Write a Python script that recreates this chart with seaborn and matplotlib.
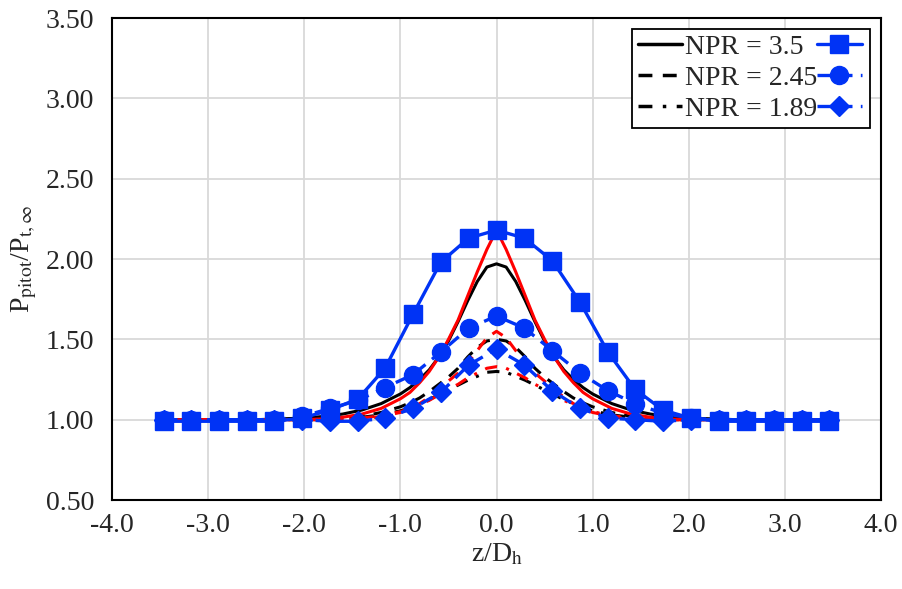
import matplotlib
matplotlib.use("Agg")
import matplotlib.pyplot as plt
from matplotlib.lines import Line2D
import seaborn as sns

# ---------------- data ----------------
xc = [-3.5, -3.0, -2.5, -2.0, -1.8, -1.6, -1.4, -1.2, -1.0, -0.9, -0.8, -0.7, -0.6, -0.5,
      -0.4, -0.3, -0.2, -0.1, 0.0, 0.1, 0.2, 0.3, 0.4, 0.5, 0.6, 0.7, 0.8, 0.9, 1.0,
      1.2, 1.4, 1.6, 1.8, 2.0, 2.5, 3.0, 3.5]

black_35 = [1.00, 1.00, 1.00, 1.01, 1.02, 1.035, 1.06, 1.10, 1.16, 1.20, 1.25, 1.31, 1.39, 1.49,
            1.61, 1.74, 1.86, 1.95, 1.97, 1.95, 1.86, 1.74, 1.61, 1.49, 1.39, 1.31, 1.25, 1.20, 1.16,
            1.10, 1.06, 1.035, 1.02, 1.01, 1.00, 1.00, 1.00]
black_245 = [1.00, 1.00, 1.00, 1.00, 1.00, 1.01, 1.02, 1.045, 1.08, 1.105, 1.135, 1.175, 1.22, 1.265,
             1.32, 1.39, 1.45, 1.49, 1.50, 1.49, 1.45, 1.39, 1.32, 1.265, 1.22, 1.175, 1.135, 1.105, 1.08,
             1.045, 1.02, 1.01, 1.00, 1.00, 1.00, 1.00, 1.00]
black_189 = [1.00, 1.00, 1.00, 1.00, 1.00, 1.005, 1.015, 1.03, 1.055, 1.075, 1.10, 1.125, 1.155, 1.185,
             1.215, 1.245, 1.27, 1.295, 1.30, 1.295, 1.27, 1.245, 1.215, 1.185, 1.155, 1.125, 1.10, 1.075, 1.055,
             1.03, 1.015, 1.005, 1.00, 1.00, 1.00, 1.00, 1.00]

red_35 = [1.00, 1.00, 1.00, 1.00, 1.005, 1.015, 1.035, 1.07, 1.13, 1.17, 1.23, 1.30, 1.39, 1.50,
          1.62, 1.77, 1.92, 2.06, 2.18, 2.06, 1.92, 1.77, 1.62, 1.50, 1.39, 1.30, 1.23, 1.17, 1.13,
          1.07, 1.035, 1.015, 1.005, 1.00, 1.00, 1.00, 1.00]
red_245 = [1.00, 1.00, 1.00, 1.00, 1.00, 1.00, 1.005, 1.02, 1.045, 1.065, 1.10, 1.14, 1.19, 1.24,
           1.29, 1.355, 1.43, 1.51, 1.55, 1.51, 1.43, 1.355, 1.29, 1.24, 1.19, 1.14, 1.10, 1.065, 1.045,
           1.02, 1.005, 1.00, 1.00, 1.00, 1.00, 1.00, 1.00]
red_189 = [1.00, 1.00, 1.00, 1.00, 1.00, 1.00, 1.01, 1.025, 1.05, 1.07, 1.095, 1.12, 1.155, 1.19,
           1.22, 1.26, 1.29, 1.32, 1.33, 1.32, 1.29, 1.26, 1.22, 1.19, 1.155, 1.12, 1.095, 1.07, 1.05,
           1.025, 1.01, 1.00, 1.00, 1.00, 1.00, 1.00, 1.00]

xm = [-3.46, -3.18, -2.89, -2.60, -2.31, -2.02, -1.73, -1.44, -1.16, -0.87, -0.58, -0.29, 0.0,
      0.29, 0.58, 0.87, 1.16, 1.44, 1.73, 2.02, 2.31, 2.60, 2.89, 3.18, 3.46]
exp_35 = [0.99, 0.99, 0.99, 0.99, 0.99, 1.01, 1.06, 1.13, 1.32, 1.655, 1.98, 2.13, 2.18,
          2.13, 1.99, 1.73, 1.42, 1.19, 1.06, 1.01, 0.99, 0.99, 0.99, 0.99, 0.99]
exp_245 = [1.00, 1.00, 1.00, 1.00, 1.00, 1.02, 1.07, 1.12, 1.20, 1.28, 1.42, 1.57, 1.645,
           1.57, 1.43, 1.29, 1.18, 1.10, 1.04, 1.01, 1.00, 1.00, 1.00, 1.00, 1.00]
exp_189 = [1.00, 1.00, 1.00, 1.00, 1.00, 1.00, 0.99, 0.99, 1.01, 1.07, 1.17, 1.34, 1.44,
           1.34, 1.18, 1.07, 1.01, 1.00, 0.99, 1.00, 1.00, 1.00, 1.00, 1.00, 1.00]

legend_labels = ["NPR = 3.5", "NPR = 2.45", "NPR = 1.89"]
xticks = [-4.0, -3.0, -2.0, -1.0, 0.0, 1.0, 2.0, 3.0, 4.0]
yticks = [0.5, 1.0, 1.5, 2.0, 2.5, 3.0, 3.5]

# ---------------- style ----------------
sns.set_style("whitegrid")
plt.rcParams["font.family"] = ["Liberation Serif", "DejaVu Serif"]
plt.rcParams["mathtext.fontset"] = "stix"
plt.rcParams["axes.unicode_minus"] = False

BLUE = "#0033F5"
RED = "#FF0000"
FS = 20

fig = plt.figure(figsize=(9.02, 5.89), dpi=100)
ax = fig.add_axes([0.1242, 0.1511, 0.8525, 0.8183])

solid = "-"
dashed = (0, (4, 3))
dashdot = (0, (4, 3, 1, 3))

for ys, ls in zip([black_35, black_245, black_189], [solid, dashed, dashdot]):
    sns.lineplot(x=xc, y=ys, ax=ax, color="black", linestyle=ls, linewidth=2.2,
                 sort=False, estimator=None, legend=False, zorder=3)
for ys, ls in zip([red_35, red_245, red_189], [solid, dashed, dashdot]):
    sns.lineplot(x=xc, y=ys, ax=ax, color=RED, linestyle=ls, linewidth=2.2,
                 sort=False, estimator=None, legend=False, zorder=4)

blue_ls = [solid, (0, (4, 2.5)), (0, (4, 2.5))]
blue_mk = ["s", "o", "D"]
blue_ms = [12.5, 13, 10]
for ys, ls, mk, ms in zip([exp_35, exp_245, exp_189], blue_ls, blue_mk, blue_ms):
    sns.lineplot(x=xm, y=ys, ax=ax, color=BLUE, linestyle=ls, linewidth=2.4,
                 marker=mk, markersize=ms, markeredgecolor=BLUE, markerfacecolor=BLUE,
                 markeredgewidth=1, sort=False, estimator=None, legend=False, zorder=5)

ax.set_xlim(-4, 4)
ax.set_ylim(0.5, 3.5)
ax.set_xticks(xticks)
ax.set_yticks(yticks)
ax.set_xticklabels([f"{v:.1f}" for v in xticks], fontsize=FS)
ax.set_yticklabels([f"{v:.2f}" for v in yticks], fontsize=FS)
ax.tick_params(axis="both", length=0)
ax.tick_params(axis="y", pad=13)
ax.tick_params(axis="x", pad=9)

ax.grid(True, color="#d9d9d9", linewidth=1.3)
for sp in ax.spines.values():
    sp.set_color("black")
    sp.set_linewidth(1.5)
    sp.set_visible(True)

ax.set_xlabel(r"z/D$_{\mathrm{h}}$", fontsize=FS, labelpad=3)
ax.set_ylabel(r"P$_{\mathrm{pitot}}$/P$_{\mathrm{t,\infty}}$", fontsize=FS, labelpad=5)

# legend
h_black = [Line2D([], [], color="black", linestyle=ls, linewidth=2.5)
           for ls in [solid, dashed, dashdot]]
h_blue = [Line2D([], [], color=BLUE, linestyle=ls, linewidth=2.4, marker=mk,
                 markersize=ms, markerfacecolor=BLUE, markeredgecolor=BLUE)
          for ls, mk, ms in zip(blue_ls, blue_mk, blue_ms)]
leg = ax.legend(h_black + h_blue, legend_labels + ["", "", ""], ncol=2,
                loc="upper right", fontsize=FS, frameon=True, fancybox=False,
                handlelength=1.6, handletextpad=0.1, columnspacing=0.0,
                labelspacing=0.2, borderpad=0.2, borderaxespad=0.4)
leg.get_frame().set_edgecolor("black")
leg.get_frame().set_linewidth(1.3)
leg.get_frame().set_alpha(1)
leg.set_zorder(10)

fig.savefig("out.png", dpi=100)
